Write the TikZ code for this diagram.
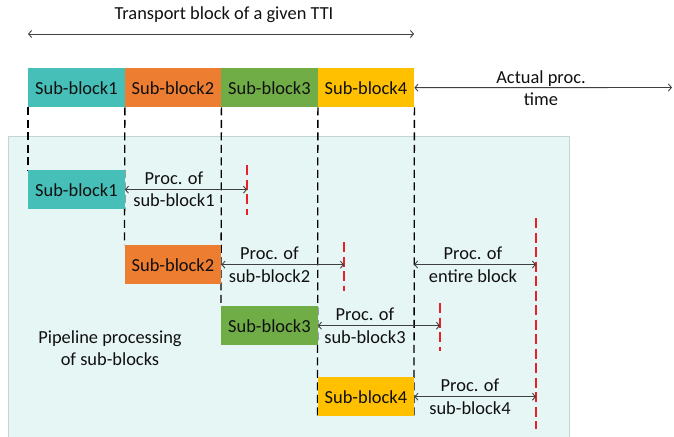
\documentclass[tikz,border=0pt]{standalone}
\usepackage{fontspec}
\setmainfont{Carlito}
\usetikzlibrary{arrows.meta}
\definecolor{cteal}{HTML}{45BFB8}
\definecolor{corange}{HTML}{ED7D31}
\definecolor{cgreen}{HTML}{70AD47}
\definecolor{cgold}{HTML}{FFC000}
\definecolor{cbg}{HTML}{E6F6F5}
\definecolor{cbord}{HTML}{C2D6D6}
\definecolor{carr}{HTML}{404040}
\definecolor{cred}{HTML}{E8202A}
\definecolor{ctxt}{HTML}{101010}
\begin{document}
\begin{tikzpicture}[x=1pt,y=-1pt,
  blk/.style={anchor=north west,minimum width=96.5pt,minimum height=39pt,inner sep=0pt,
    font=\fontsize{18.4}{20}\selectfont,text=ctxt},
  lbl/.style={font=\fontsize{18.4}{22.5}\selectfont,align=center,text=ctxt,inner sep=0pt},
  dsh/.style={line width=1.3pt,dash pattern=on 8pt off 4.5pt,black},
  rdsh/.style={line width=1.2pt,dash pattern=on 10pt off 4.5pt,cred},
  arr/.style={{Straight Barb[length=3pt,width=7pt]}-{Straight Barb[length=3pt,width=7pt]},line width=0.9pt,carr}]
\useasboundingbox (0,0) rectangle (674,436);
% background panel
\fill[cbg,draw=cbord,line width=0.8pt] (8,136) rectangle (569,445);
% top text and arrow
\node[lbl] (ttl) at (224,15) {Transport block of a given TTI};
\coordinate (ta) at (28,34);
\coordinate (tb) at (414,34);
\draw[arr] (ta) -- (tb);
% top blocks
\node[blk,fill=cteal]   (t1) at (28,68)    {Sub-block1};
\node[blk,fill=corange] (t2) at (124.5,68) {Sub-block2};
\node[blk,fill=cgreen]  (t3) at (221,68)   {Sub-block3};
\node[blk,fill=cgold]   (t4) at (317.5,68) {Sub-block4};
% actual proc time
\coordinate (ap) at (672,87.5);
\draw[arr] (t4.east) -- (ap);
\node[lbl] (apt) at (541,88) {Actual proc.\\time};
% row block coordinates and dashed guides
\coordinate (r1p) at (28,170);
\coordinate (r2p) at (124.5,245);
\coordinate (r3p) at (221,306);
\coordinate (r4p) at (317.5,377);
\draw[dsh] (t1.south west) -- (r1p);
\draw[dsh] (t1.south east) -- (r2p);
\draw[dsh] (t2.south east) -- (r3p);
\draw[dsh] (t3.south east) -- ([yshift=-39pt]r4p);
\draw[dsh] (t4.south east) -- ([shift={(96.5,39)}]r4p);
% row blocks
\node[blk,fill=cteal]   (r1) at (r1p) {Sub-block1};
\node[blk,fill=corange] (r2) at (r2p) {Sub-block2};
\node[blk,fill=cgreen]  (r3) at (r3p) {Sub-block3};
\node[blk,fill=cgold]   (r4) at (r4p) {Sub-block4};
% red end markers
\coordinate (q1a) at (247,165); \coordinate (q1b) at (247,215);
\coordinate (q2a) at (344,242); \coordinate (q2b) at (344,291);
\coordinate (q3a) at (440,303); \coordinate (q3b) at (440,351);
\coordinate (q4a) at (536,218); \coordinate (q4b) at (536,429);
\draw[rdsh] (q1a) -- (q1b);
\draw[rdsh] (q2a) -- (q2b);
\draw[rdsh] (q3a) -- (q3b);
\draw[rdsh] (q4a) -- (q4b);
% processing arrows
\draw[arr] (r1.east) -- (r1.east -| q1a);
\draw[arr] (r2.east) -- (r2.east -| q2a);
\draw[arr] (r3.east) -- (r3.east -| q3a);
\draw[arr] (r4.east) -- (r4.east -| q4a);
\coordinate (eb) at (414,264.5);
\draw[arr] (eb) -- (eb -| q4a);
% labels
\node[lbl] (l1) at (174,189.5) {Proc. of\\sub-block1};
\node[lbl] (l2) at (269.5,265) {Proc. of\\sub-block2};
\node[lbl] (l3) at (365,326) {Proc. of\\sub-block3};
\node[lbl] (l4) at (470,397) {Proc. of\\sub-block4};
\node[lbl] (le) at (473,265) {Proc. of\\entire block};
\node[lbl] (pp) at (110,348) {Pipeline processing\\of sub-blocks};
\end{tikzpicture}
\end{document}
